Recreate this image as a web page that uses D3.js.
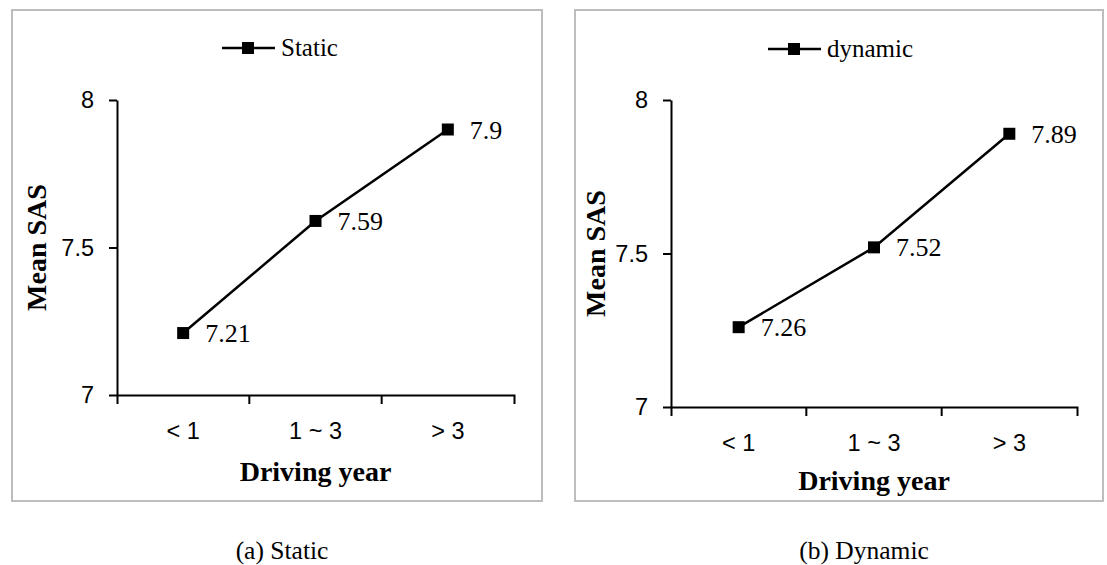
<!DOCTYPE html>
<html>
<head>
<meta charset="utf-8">
<script src="https://cdn.jsdelivr.net/npm/d3@7.9.0/dist/d3.min.js"></script>
<style>
  body { margin: 0; background: #fff; }
  svg { display: block; }
  .serif { font-family: "Liberation Serif", "Times New Roman", serif; }
  .tick text { font-family: "Liberation Sans", Arial, sans-serif; font-size: 23.5px; fill: #000; }
</style>
</head>
<body>
<svg id="chart" width="1107" height="565"></svg>
<script>
// chart data
const categories = ['< 1', '1 ~ 3', '> 3'];
const staticValues = [7.21, 7.59, 7.9];
const dynamicValues = [7.26, 7.52, 7.89];
const yTicks = [7, 7.5, 8];
const seriesNames = ['Static', 'dynamic'];
const captions = ['(a) Static', '(b) Dynamic'];
const xTitle = 'Driving year';
const yTitle = 'Mean SAS';

// layout of the two panels
const panels = [
  { values: staticValues, name: seriesNames[0], caption: captions[0], capX: 282,
    box: [12, 10, 542, 501], x0: 117, x1: 514, yTop: 100, yBot: 395,
    legX: 222, legY: 48, yTitleX: 46, xTitleY: 481 },
  { values: dynamicValues, name: seriesNames[1], caption: captions[1], capX: 864,
    box: [575, 10, 1103, 501], x0: 671, x1: 1077, yTop: 100, yBot: 407,
    legX: 768, legY: 49, yTitleX: 605, xTitleY: 490 }
];

const svg = d3.select('#chart');

panels.forEach((p) => {
  const g = svg.append('g');

  // grey frame
  g.append('rect')
    .attr('x', p.box[0]).attr('y', p.box[1])
    .attr('width', p.box[2] - p.box[0]).attr('height', p.box[3] - p.box[1])
    .attr('fill', 'none').attr('stroke', '#bdbdbd').attr('stroke-width', 2);

  const x = d3.scaleBand().domain(categories).range([p.x0, p.x1]);
  const y = d3.scaleLinear().domain([7, 8]).range([p.yBot, p.yTop]);

  // y axis
  const yAxis = g.append('g')
    .attr('transform', `translate(${p.x0},0)`)
    .call(d3.axisLeft(y).tickValues(yTicks).tickFormat(d3.format('')).tickSize(8).tickSizeOuter(0).tickPadding(15));
  yAxis.select('.domain').attr('stroke', '#000').attr('stroke-width', 2);
  yAxis.selectAll('.tick line').attr('stroke', '#000').attr('stroke-width', 2);

  // x axis with ticks on band edges
  const xAxis = g.append('g')
    .attr('transform', `translate(0,${p.yBot})`)
    .call(d3.axisBottom(x).tickSizeInner(0).tickSizeOuter(9).tickPadding(27));
  xAxis.select('.domain').attr('stroke', '#000').attr('stroke-width', 2);
  xAxis.selectAll('.tick line').remove();
  xAxis.selectAll('.tick text').attr('dy', '0.35em').attr('y', 36);
  g.selectAll('.band-tick')
    .data(categories.slice(1))
    .join('line')
    .attr('x1', (d) => x(d)).attr('x2', (d) => x(d))
    .attr('y1', p.yBot).attr('y2', p.yBot + 9)
    .attr('stroke', '#000').attr('stroke-width', 2);

  // series line
  const pts = categories.map((c, i) => [x(c) + x.bandwidth() / 2, y(p.values[i])]);
  g.append('path')
    .attr('d', d3.line()(pts))
    .attr('fill', 'none').attr('stroke', '#000').attr('stroke-width', 2.5);

  g.selectAll('.marker')
    .data(pts)
    .join('rect')
    .attr('x', (d) => d[0] - 6).attr('y', (d) => d[1] - 6)
    .attr('width', 12).attr('height', 12)
    .attr('fill', '#000');

  g.selectAll('.value-label')
    .data(pts)
    .join('text')
    .attr('class', 'serif')
    .attr('x', (d) => d[0] + 22).attr('y', (d) => d[1])
    .attr('dy', '0.35em')
    .attr('font-size', 26)
    .text((d, i) => p.values[i]);

  // legend
  g.append('line')
    .attr('x1', p.legX).attr('x2', p.legX + 53)
    .attr('y1', p.legY).attr('y2', p.legY)
    .attr('stroke', '#000').attr('stroke-width', 2.5);
  g.append('rect')
    .attr('x', p.legX + 20).attr('y', p.legY - 6)
    .attr('width', 12).attr('height', 12).attr('fill', '#000');
  g.append('text')
    .attr('class', 'serif')
    .attr('x', p.legX + 59).attr('y', p.legY)
    .attr('dy', '0.33em')
    .attr('font-size', 25)
    .text(p.name);

  // axis titles
  g.append('text')
    .attr('class', 'serif')
    .attr('x', (p.x0 + p.x1) / 2).attr('y', p.xTitleY)
    .attr('text-anchor', 'middle')
    .attr('font-size', 28).attr('font-weight', 'bold')
    .text(xTitle);
  g.append('text')
    .attr('class', 'serif')
    .attr('transform', `translate(${p.yTitleX},${(p.yTop + p.yBot) / 2}) rotate(-90)`)
    .attr('text-anchor', 'middle')
    .attr('font-size', 28).attr('font-weight', 'bold')
    .text(yTitle);

  // caption under the panel
  svg.append('text')
    .attr('class', 'serif')
    .attr('x', p.capX).attr('y', 559)
    .attr('text-anchor', 'middle')
    .attr('font-size', 25.5)
    .text(p.caption);
});
</script>
</body>
</html>
